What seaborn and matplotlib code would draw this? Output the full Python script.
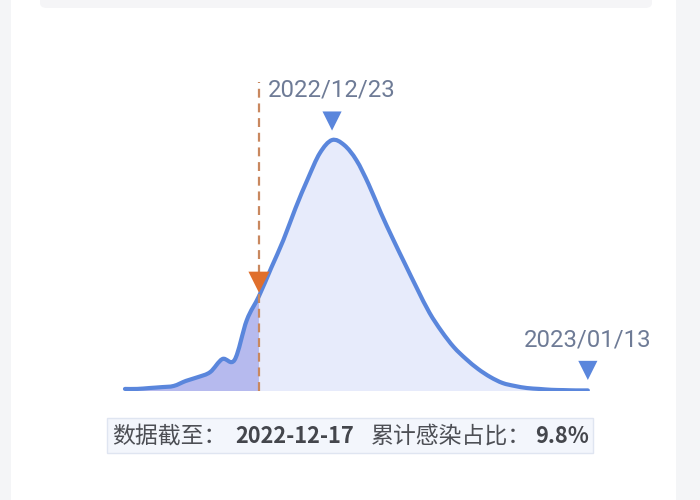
import matplotlib
matplotlib.use('Agg')
import matplotlib.pyplot as plt
import matplotlib.dates as mdates
from matplotlib.patches import Rectangle, FancyBboxPatch, PathPatch
from matplotlib.path import Path
import numpy as np
import pandas as pd
import seaborn as sns

# daily share of new infections (%), 2022-12-06 .. 2023-01-13
dates = pd.date_range('2022-12-06', '2023-01-13', freq='D')
daily_share = [
    0.07, 0.07, 0.10, 0.13, 0.17, 0.34, 0.47, 0.64, 1.08, 1.05, 2.39, 3.20,
    4.15, 5.09, 6.17, 7.15, 8.03, 8.47, 8.30, 7.79, 6.98, 6.02, 5.13, 4.28,
    3.44, 2.64, 2.01, 1.48, 1.08, 0.74, 0.47, 0.27, 0.17, 0.10, 0.07, 0.04,
    0.03, 0.02, 0.02,
]
cutoff_date = pd.Timestamp('2022-12-17')
peak_date = pd.Timestamp('2022-12-23')
end_date = pd.Timestamp('2023-01-13')
cum_share = '9.8%'

df = pd.DataFrame({'date': dates, 'share': daily_share})

LINE = '#5a86dc'
FILL_PAST = '#b6baee'
FILL_FUTURE = '#e7ebfb'
ORANGE = '#e06f2c'
DASH = '#c9885f'
LABEL = '#6e7b96'
BG = '#f4f5f7'


def smooth_path(x, y, closed=False):
    """Bezier path through the points (Catmull-Rom tangents), like a smooth line chart."""
    pts = np.column_stack([x, y])
    ext = np.vstack([pts[0], pts, pts[-1]])
    verts = [pts[0]]
    codes = [Path.MOVETO]
    for i in range(len(pts) - 1):
        p0, p1, p2, p3 = ext[i], ext[i + 1], ext[i + 2], ext[i + 3]
        c1 = p1 + (p2 - p0) / 6
        c2 = p2 - (p3 - p1) / 6
        c1[1] = max(c1[1], 0)
        c2[1] = max(c2[1], 0)
        verts += [c1, c2, p2]
        codes += [Path.CURVE4] * 3
    if closed:
        verts += [(x[-1], 0), (x[0], 0), pts[0]]
        codes += [Path.LINETO, Path.LINETO, Path.CLOSEPOLY]
    return Path(np.array(verts), codes)


sns.set_theme(style='white')
plt.rcParams['font.family'] = ['Roboto', 'Noto Sans CJK SC', 'DejaVu Sans']

fig = plt.figure(figsize=(7, 5), dpi=100)
fig.patch.set_facecolor(BG)
# white card and the faded bar at the top
fig.add_artist(Rectangle((11 / 700, 0), 665 / 700, 1, transform=fig.transFigure,
                         facecolor='white', edgecolor='none', zorder=0))
fig.add_artist(FancyBboxPatch((40 / 700, 492 / 500), 612 / 700, 0.03,
                              boxstyle='round,pad=0,rounding_size=0.01',
                              transform=fig.transFigure, facecolor='#f5f5f7',
                              edgecolor='none', zorder=0))

ax = fig.add_axes([100 / 700, 109 / 500, 520 / 700, 331 / 500])
ax.set_facecolor('none')

xn = mdates.date2num(df['date'])
yv = df['share'].to_numpy()
k = int(np.where(df['date'] == cutoff_date)[0][0])

ax.add_patch(PathPatch(smooth_path(xn[:k + 1], yv[:k + 1], closed=True),
                       facecolor=FILL_PAST, edgecolor='none', zorder=1))
ax.add_patch(PathPatch(smooth_path(xn[k:], yv[k:], closed=True),
                       facecolor=FILL_FUTURE, edgecolor='none', zorder=1))
ax.add_patch(PathPatch(smooth_path(xn, yv), facecolor='none', edgecolor=LINE,
                       lw=3, capstyle='round', joinstyle='round', zorder=2))

px = 1 / 29.63  # one pixel in data units

cut_val = yv[k]
peak_val = yv.max()
end_val = yv[-1]

# cutoff marker
ax.plot([cutoff_date, cutoff_date], [0, 309 * px], color=DASH, lw=1.6,
        ls=(0, (4, 2.6)), zorder=3)

marks = pd.DataFrame({
    'date': [cutoff_date, peak_date, end_date],
    'y': [cut_val + 14 * px, peak_val + 19 * px, end_val + 20 * px],
    'kind': ['cut', 'peak', 'end'],
})
sns.scatterplot(data=marks, x='date', y='y', hue='kind', marker='v', s=[230, 190, 190],
                palette={'cut': ORANGE, 'peak': LINE, 'end': LINE},
                edgecolor='none', legend=False, ax=ax, zorder=4)

ax.text(peak_date, peak_val + 50 * px, peak_date.strftime('%Y/%m/%d'),
        ha='center', va='center', fontsize=17.2, color=LABEL)
ax.text(end_date, end_val + 50 * px, end_date.strftime('%Y/%m/%d'),
        ha='center', va='center', fontsize=17.2, color=LABEL)

ax.set_xlim(cutoff_date - pd.Timedelta(days=13.05), cutoff_date + pd.Timedelta(days=29.64))
ax.set_ylim(0, 331 * px)
ax.axis('off')

# summary box under the chart
fig.add_artist(Rectangle((107 / 700, 47 / 500), 486 / 700, 35 / 500,
                         transform=fig.transFigure, facecolor='#f3f6fc',
                         edgecolor='#dfe5f1', lw=1, zorder=1))
ty = 63.5 / 500
cjk = ['Noto Sans CJK SC', 'DejaVu Sans']
fig.text(112 / 700, ty, '数据截至：', family=cjk, fontsize=16.5, color='#4d4f55',
         va='center', ha='left')
fig.text(235 / 700, ty, cutoff_date.strftime('%Y-%m-%d'), family=cjk, fontsize=15.7,
         fontweight='bold', color='#44464c', va='center', ha='left')
fig.text(371 / 700, ty, '累计感染占比：', family=cjk, fontsize=16.5, color='#4d4f55',
         va='center', ha='left')
fig.text(535 / 700, ty, cum_share, family=cjk, fontsize=15.7, fontweight='bold',
         color='#44464c', va='center', ha='left')

fig.savefig('out.png', dpi=100, facecolor=fig.get_facecolor())
